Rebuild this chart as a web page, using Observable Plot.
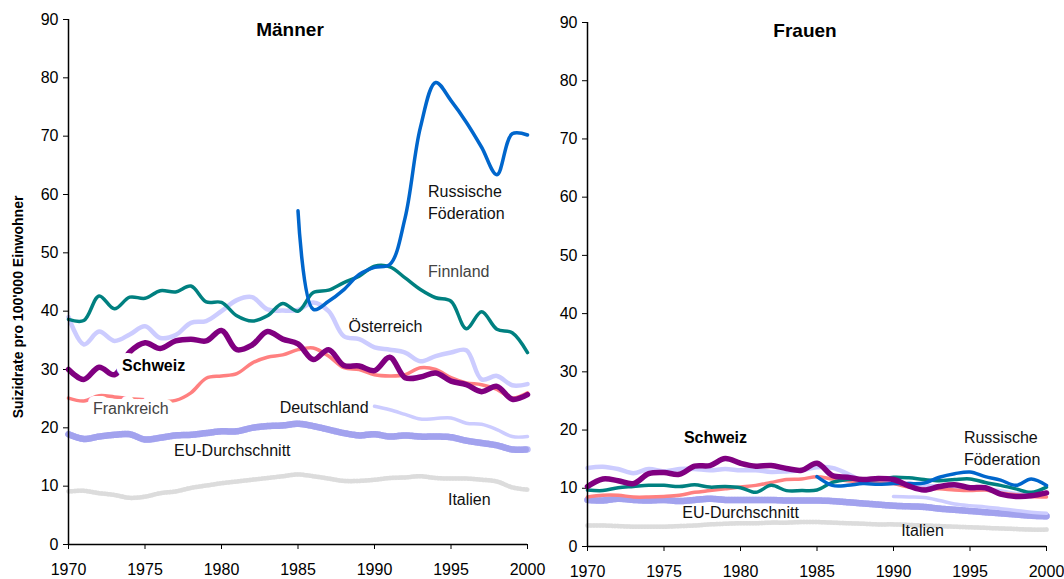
<!DOCTYPE html>
<html>
<head>
<meta charset="utf-8">
<script src="https://cdn.jsdelivr.net/npm/d3@7"></script>
<script src="https://cdn.jsdelivr.net/npm/@observablehq/plot@0.6"></script>
<style>
  html, body { margin: 0; padding: 0; background: #fff; }
  #wrap { position: relative; width: 1064px; height: 579px; overflow: hidden; font-family: "Liberation Sans", Arial, sans-serif; }
  #wrap svg { position: absolute; top: 0; overflow: visible; }
  .title { position: absolute; font-weight: bold; font-size: 19px; transform: translate(-50%, -50%); white-space: nowrap; }
  .ylab { position: absolute; font-weight: bold; font-size: 14px; white-space: nowrap; transform: translate(-50%, -50%) rotate(-90deg); }
</style>
</head>
<body>
<div id="wrap">
  <div class="title" style="left:290px; top:30px;">Männer</div>
  <div class="title" style="left:805px; top:31px;">Frauen</div>
  <div class="ylab" style="left:18px; top:307px;">Suizidrate pro 100'000 Einwohner</div>
</div>
<script>
// ---------- DATA ----------
const years = [1970,1971,1972,1973,1974,1975,1976,1977,1978,1979,1980,1981,1982,1983,1984,1985,1986,1987,1988,1989,1990,1991,1992,1993,1994,1995,1996,1997,1998,1999,2000];
const xTicks = [1970,1975,1980,1985,1990,1995,2000];
const yTicks = [0,10,20,30,40,50,60,70,80,90];

// Männer
const menRussland = [null,null,null,null,null,null,null,null,null,null,null,null,null,null,null,57.2,40.3,41.7,43.7,46.3,47.5,48.0,56.0,71.5,79.2,76.1,72.4,68.1,63.4,70.4,70.2];
const menFinnland = [38.6,38.4,42.6,40.4,42.4,42.2,43.5,43.3,44.3,41.6,41.5,39.2,38.3,39.2,41.3,40.0,43.2,43.6,44.9,46.0,47.7,47.6,45.7,43.7,42.3,41.7,37.0,39.9,36.9,36.3,32.9];
const menOesterreich = [39.0,34.3,36.5,34.9,36.0,37.4,35.4,35.9,38.0,38.3,40.0,41.9,42.4,40.3,40.1,40.2,41.5,40.0,35.7,35.2,33.8,33.4,32.9,31.4,32.3,32.9,33.3,28.3,28.9,27.3,27.5];
const menSchweiz = [30.0,28.3,30.4,29.1,33.0,34.6,33.6,34.9,35.2,34.9,36.7,33.4,34.2,36.5,35.2,34.4,31.7,33.4,30.7,30.6,29.8,32.1,28.6,28.7,29.4,28.0,27.4,26.2,27.1,24.9,25.7];
const menFrankreich = [25.1,24.6,25.5,25.3,25.0,24.8,24.5,24.7,26.0,28.5,28.9,29.3,31.1,32.1,32.5,33.4,33.7,32.3,30.3,30.0,29.1,28.9,29.1,30.3,30.0,28.6,27.7,27.4,26.6,25.1,26.0];
const menDeutschland = [null,null,null,null,null,null,null,null,null,null,null,null,null,null,null,null,null,null,null,null,23.7,23.1,22.3,21.5,21.6,21.7,20.8,20.6,19.7,18.5,18.5];
const menEU = [18.9,18.1,18.5,18.8,18.9,18.0,18.3,18.7,18.8,19.1,19.4,19.4,20.0,20.3,20.4,20.7,20.3,19.7,19.1,18.7,18.9,18.5,18.7,18.5,18.5,18.4,17.8,17.4,17.0,16.3,16.3];
const menItalien = [9.1,9.2,8.8,8.5,8.0,8.2,8.8,9.1,9.7,10.1,10.5,10.8,11.1,11.4,11.7,12.0,11.7,11.3,10.9,10.9,11.1,11.4,11.5,11.7,11.4,11.3,11.3,11.1,10.8,9.8,9.4];

// Frauen
const womRussland = [null,null,null,null,null,null,null,null,null,null,null,null,null,null,null,12.0,10.5,10.5,10.8,10.7,10.8,10.8,10.9,11.9,12.5,12.8,12.0,11.4,10.5,11.6,10.5];
const womFinnland = [9.7,9.6,10.1,10.3,10.5,10.5,10.3,10.6,10.2,10.3,10.1,9.3,10.5,9.6,9.6,9.7,11.0,11.5,11.5,11.5,11.9,11.8,11.5,11.3,11.5,11.6,11.0,10.5,9.9,9.3,10.2];
const womOesterreich = [13.5,13.7,13.3,12.6,13.3,12.9,13.3,13.3,13.1,13.3,13.1,13.1,12.8,12.9,13.1,13.6,13.5,12.5,11.3,11.5,11.0,10.8,10.5,10.3,10.2,10.0,9.8,9.5,9.0,9.0,9.2];
const womSchweiz = [10.3,11.6,11.3,10.8,12.5,12.7,12.4,13.8,13.9,15.1,14.3,13.8,13.9,13.4,13.1,14.3,12.2,11.9,11.5,11.7,11.5,10.4,9.7,10.3,10.6,10.1,10.1,9.0,8.6,8.7,9.2];
const womFrankreich = [8.5,8.8,8.8,8.5,8.5,8.6,8.8,9.3,9.6,9.9,10.2,10.5,11.0,11.5,11.6,12.0,11.6,11.3,11.0,10.9,10.8,10.2,9.9,9.9,9.7,9.6,9.7,9.2,8.9,8.6,8.5];
const womDeutschland = [null,null,null,null,null,null,null,null,null,null,null,null,null,null,null,null,null,null,null,null,8.6,8.5,8.4,7.9,7.3,7.0,6.8,6.5,6.2,5.9,5.7];
const womEU = [8.0,7.9,8.2,8.0,7.9,8.0,7.8,8.0,8.2,8.0,8.0,8.0,8.0,7.9,7.9,7.9,7.8,7.6,7.4,7.2,7.0,6.9,6.8,6.5,6.3,6.1,5.9,5.7,5.5,5.3,5.2];
const womItalien = [3.6,3.6,3.5,3.4,3.4,3.4,3.5,3.6,3.8,3.9,4.0,4.0,4.1,4.1,4.2,4.2,4.1,4.0,3.9,3.8,3.8,3.7,3.6,3.5,3.4,3.3,3.2,3.1,3.0,2.9,2.9];

// label annotations (text, year, value)
const menLabels = [
  {t: "Russische", x: 1993.5, y: 60.4, c: "#111"},
  {t: "Föderation", x: 1993.5, y: 56.7, c: "#111"},
  {t: "Finnland", x: 1993.5, y: 46.7, c: "#444"},
  {t: "Österreich", x: 1988.3, y: 37.3, c: "#111"},
  {t: "Deutschland", x: 1983.8, y: 23.4, c: "#111"},
  {t: "EU-Durchschnitt", x: 1976.9, y: 16.0, c: "#111"},
  {t: "Italien", x: 1994.8, y: 7.7, c: "#111"}
];
const menBoldLabels = [{t: "Schweiz", x: 1973.5, y: 30.6, c: "#000"}];
const menMaskLabels = [{t: "Frankreich", x: 1971.6, y: 23.3, c: "#444"}];
const womLabels = [
  {t: "Russische", x: 1994.6, y: 18.7, c: "#111"},
  {t: "Föderation", x: 1994.6, y: 14.9, c: "#111"},
  {t: "EU-Durchschnitt", x: 1976.2, y: 5.7, c: "#111"},
  {t: "Italien", x: 1990.5, y: 2.7, c: "#111"}
];
const womBoldLabels = [{t: "Schweiz", x: 1976.3, y: 18.7, c: "#000"}];

// ---------- DRAW ----------
const rows = arr => years.map((yr, i) => ({year: yr, value: arr[i]}));
const curve = "catmull-rom";
const FONT = '"Liberation Sans", Arial, sans-serif';

function seriesMarks(s) {
  return [
    // Italien (patterned light grey)
    Plot.line(rows(s.ita), {x: "year", y: "value", stroke: "#ececec", strokeWidth: 4.5, curve}),
    Plot.line(rows(s.ita), {x: "year", y: "value", stroke: "#dcdcdc", strokeWidth: 4.5, strokeDasharray: "1,2", curve}),
    // EU (patterned lavender)
    Plot.line(rows(s.eu), {x: "year", y: "value", stroke: "#bcbcf8", strokeWidth: 6.5, curve}),
    Plot.line(rows(s.eu), {x: "year", y: "value", stroke: "#a2a2ee", strokeWidth: 6.5, strokeDasharray: "1,2", curve}),
    Plot.line(rows(s.deu), {x: "year", y: "value", stroke: "#ccccff", strokeWidth: 3.5, curve}),
    Plot.line(rows(s.aut), {x: "year", y: "value", stroke: "#ccccff", strokeWidth: 4.5, curve}),
    Plot.line(rows(s.fra), {x: "year", y: "value", stroke: "#ff8080", strokeWidth: 3.5, curve}),
    Plot.line(rows(s.fin), {x: "year", y: "value", stroke: "#008080", strokeWidth: 3.5, curve}),
    Plot.line(rows(s.rus), {x: "year", y: "value", stroke: "#0066cc", strokeWidth: 3.5, curve}),
    Plot.line(rows(s.che), {x: "year", y: "value", stroke: "#800080", strokeWidth: 5.5, curve})
  ];
}

function panel(opts) {
  return Plot.plot({
    width: opts.width,
    height: 579,
    marginLeft: opts.ml,
    marginRight: opts.mr,
    marginTop: opts.mt,
    marginBottom: opts.mb,
    style: {fontFamily: FONT, fontSize: "16px", color: "#000", background: "transparent", overflow: "visible"},
    x: {domain: [1970, 2000], ticks: xTicks, tickFormat: d3.format("d"), tickSize: 5, tickPadding: 14, label: null},
    y: {domain: [0, 90], ticks: yTicks, tickSize: 5, tickPadding: 5, label: null},
    marks: [
      ...seriesMarks(opts.s),
      ...opts.extra,
      Plot.ruleX([1970], {stroke: "#000", strokeWidth: 1.5}),
      Plot.ruleY([0], {stroke: "#000", strokeWidth: 1.5})
    ]
  });
}

const menExtra = [
  Plot.text(menBoldLabels, {x: "x", y: "y", text: "t", fill: "c", fontWeight: "bold", textAnchor: "start", fontSize: 16,
    stroke: "white", strokeWidth: 12, strokeLinejoin: "round", paintOrder: "stroke"}),
  Plot.text(menMaskLabels, {x: "x", y: "y", text: "t", fill: "c", textAnchor: "start", fontSize: 16,
    stroke: "white", strokeWidth: 12, strokeLinejoin: "round", paintOrder: "stroke"}),
  Plot.text(menLabels, {x: "x", y: "y", text: "t", fill: "c", textAnchor: "start", fontSize: 16})
];
const womExtra = [
  Plot.text(womBoldLabels, {x: "x", y: "y", text: "t", fill: "c", fontWeight: "bold", textAnchor: "start", fontSize: 16}),
  Plot.text(womLabels, {x: "x", y: "y", text: "t", fill: "c", textAnchor: "start", fontSize: 16})
];

const left = panel({
  width: 545, ml: 68, mr: 18, mt: 19, mb: 35, extra: menExtra,
  s: {rus: menRussland, fin: menFinnland, aut: menOesterreich, che: menSchweiz, fra: menFrankreich, deu: menDeutschland, eu: menEU, ita: menItalien}
});
const right = panel({
  width: 532, ml: 55, mr: 18, mt: 22, mb: 33, extra: womExtra,
  s: {rus: womRussland, fin: womFinnland, aut: womOesterreich, che: womSchweiz, fra: womFrankreich, deu: womDeutschland, eu: womEU, ita: womItalien}
});
left.style.left = "0px";
right.style.left = "532px";
const wrap = document.getElementById("wrap");
wrap.insertBefore(left, wrap.firstChild);
wrap.insertBefore(right, wrap.firstChild);
</script>
</body>
</html>
